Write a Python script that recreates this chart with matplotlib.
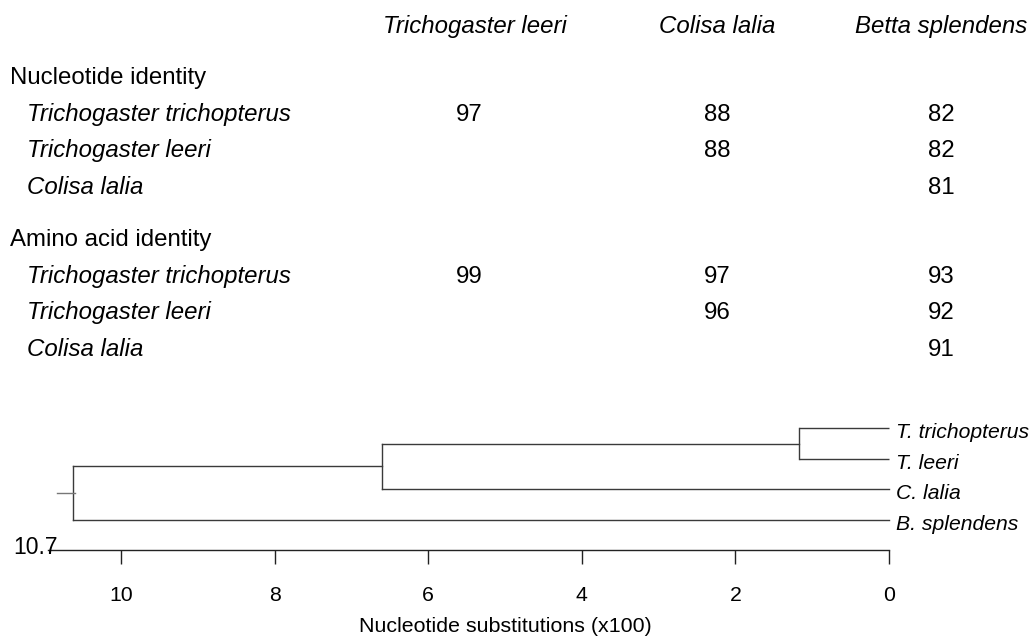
import matplotlib
matplotlib.use("Agg")
import matplotlib.pyplot as plt

plt.rcParams['font.family'] = ['Liberation Sans', 'DejaVu Sans']

# ---------------- data ----------------
col_headers = ["Trichogaster leeri", "Colisa lalia", "Betta splendens"]
sections = ["Nucleotide identity", "Amino acid identity"]
row_species = ["Trichogaster trichopterus", "Trichogaster leeri", "Colisa lalia"]
nucleotide_identity = [
    [97, 88, 82],
    [None, 88, 82],
    [None, None, 81],
]
amino_identity = [
    [99, 97, 93],
    [None, 96, 92],
    [None, None, 91],
]

# tree (depths in nucleotide substitutions x100, measured from tips)
tip_labels = ["T. trichopterus", "T. leeri", "C. lalia", "B. splendens"]
tip_depth = [0.0, 0.0, 0.0, 0.0]
node_tt_depth = 1.17      # T. trichopterus + T. leeri
node_c_depth = 6.60       # + C. lalia
root_depth = 10.63        # + B. splendens
root_stub = 10.83
root_label = "10.7"
axis_ticks = [10, 8, 6, 4, 2, 0]
axis_title = "Nucleotide substitutions (x100)"

# ---------------- figure ----------------
W, H = 1029, 636
fig = plt.figure(figsize=(W / 100, H / 100), dpi=100)

def ftext(px, py, s, **kw):
    fig.text(px / W, 1 - py / H, s, **kw)

TFS = 17.3
# headers
header_x = [475, 717, 941]
num_x = [469, 717, 941]
for x, h in zip(header_x, col_headers):
    ftext(x, 33, h, ha='center', va='baseline', fontsize=TFS, style='italic')

row_h = 36.7
section_base = [84, 246]
for sb, sec, mat in zip(section_base, sections, [nucleotide_identity, amino_identity]):
    ftext(10, sb, sec, ha='left', va='baseline', fontsize=TFS)
    for i, sp in enumerate(row_species):
        by = sb + row_h * (i + 1)
        ftext(27, by, sp, ha='left', va='baseline', fontsize=TFS, style='italic')
        for j, v in enumerate(mat[i]):
            if v is not None:
                ftext(num_x[j], by, str(v), ha='center', va='baseline', fontsize=TFS)

# ---------------- tree axes ----------------
top_px = 400
ax = fig.add_axes([0, 0, 1, (H - top_px) / H])
px0 = 889.0
ppu = 76.8
ax.set_xlim(px0 / ppu, (px0 - W) / ppu)
y_top_px, y_step_px = 428.3, 30.4
ax.set_ylim(1 + (H - y_top_px) / y_step_px, 1 + (top_px - y_top_px) / y_step_px)

tip_y = [1, 2, 3, 4]
lc = '#3a3a3a'
lw = 1.0
# T node
y_tt = (tip_y[0] + tip_y[1]) / 2
for k in (0, 1):
    ax.plot([node_tt_depth, tip_depth[k]], [tip_y[k], tip_y[k]], color=lc, lw=lw, solid_capstyle='butt')
ax.plot([node_tt_depth, node_tt_depth], [tip_y[0], tip_y[1]], color=lc, lw=lw)
# C node
y_c = (y_tt + tip_y[2]) / 2
ax.plot([node_c_depth, node_tt_depth], [y_tt, y_tt], color=lc, lw=lw)
ax.plot([node_c_depth, tip_depth[2]], [tip_y[2], tip_y[2]], color=lc, lw=lw)
ax.plot([node_c_depth, node_c_depth], [y_tt, tip_y[2]], color=lc, lw=lw)
# root
y_r = (y_c + tip_y[3]) / 2
ax.plot([root_depth, node_c_depth], [y_c, y_c], color=lc, lw=lw)
ax.plot([root_depth, tip_depth[3]], [tip_y[3], tip_y[3]], color=lc, lw=lw)
ax.plot([root_depth, root_depth], [y_c, tip_y[3]], color=lc, lw=lw)
ax.plot([root_stub, root_depth - 0.03], [y_r, y_r], color='#777777', lw=lw)

for lab, d, y in zip(tip_labels, tip_depth, tip_y):
    ax.annotate(lab, xy=(d, y), xytext=(5, -7.2), textcoords='offset points',
                ha='left', va='baseline', fontsize=15.2, style='italic')

# axis
for s in ('top', 'left', 'right'):
    ax.spines[s].set_visible(False)
axis_y = 1 + (550 - y_top_px) / y_step_px
ax.spines['bottom'].set_position(('data', axis_y))
ax.spines['bottom'].set_bounds(10.95, 0)
ax.spines['bottom'].set_color('#222222')
ax.spines['bottom'].set_linewidth(1.0)
ax.set_xticks(axis_ticks)
ax.set_xticklabels([str(t) for t in axis_ticks])
ax.tick_params(axis='x', direction='out', length=10.1, width=1.0, color='#222222',
               pad=16, labelsize=15.3)
ax.set_yticks([])
ax.patch.set_visible(False)

ax.text(root_stub, 1 + (554 - y_top_px) / y_step_px, root_label, ha='right', va='baseline', fontsize=16.5)
ax.text(5, 1 + (632.5 - y_top_px) / y_step_px, axis_title, ha='center', va='baseline', fontsize=15.4)

fig.savefig('out.png', dpi=100)
